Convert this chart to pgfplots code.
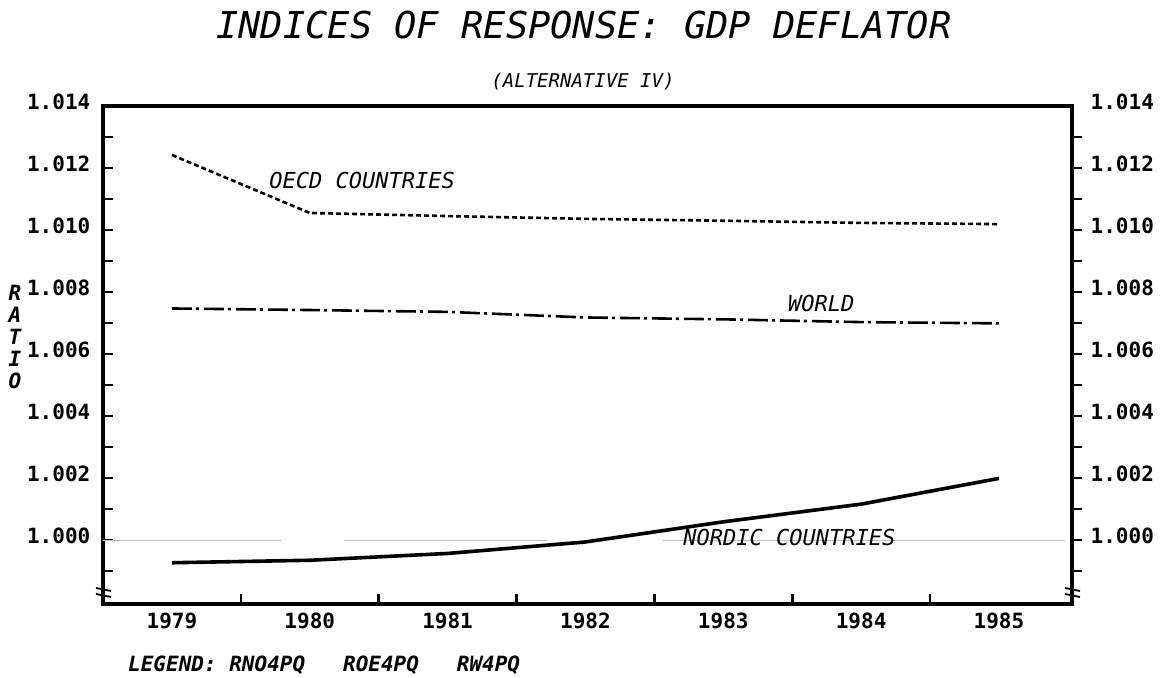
\documentclass[border=0pt]{standalone}
\usepackage{fontspec}
\usepackage{pgfplots}
\pgfplotsset{compat=1.18}
\newfontfamily\pf{DejaVu Sans Mono}
\newcommand{\tickfont}{\pf\bfseries\fontsize{21bp}{22bp}\selectfont}
\newcommand{\lblfont}{\pf\itshape\fontsize{22bp}{24bp}\selectfont}
\begin{document}
\begin{tikzpicture}[x=1bp,y=1bp]
\path[use as bounding box] (0,0) rectangle (1172,678);
\begin{axis}[
  at={(103bp,74bp)}, anchor=south west, scale only axis,
  width=969bp, height=498bp,
  xmin=1978.5, xmax=1985.53, ymin=0.99794, ymax=1.014,
  line width=3.4bp,
  axis line style={line width=3.4bp},
  xtick={1979.5,1980.5,1981.5,1982.5,1983.5,1984.5}, xticklabels={},
  extra x ticks={1979,1980,1981,1982,1983,1984,1985},
  extra x tick labels={1979,1980,1981,1982,1983,1984,1985},
  extra x tick style={tick style={draw=none}},
  xtick pos=bottom, ytick pos=left,
  ytick={1.000,1.002,1.004,1.006,1.008,1.010,1.012,1.014},
  yticklabels={1.000,1.002,1.004,1.006,1.008,1.010,1.012,1.014},
  minor ytick={0.999,1.001,1.003,1.005,1.007,1.009,1.011,1.013},
  tick align=inside,
  major tick length=10bp, minor tick length=10bp,
  tick style={line width=2.6bp, black},
  xticklabel style={font=\tickfont, yshift=-4bp},
  yticklabel style={font=\tickfont, anchor=east, inner sep=0pt, xshift=-11bp, yshift=4.5bp},
  clip=false,
]
\addplot[gray!50, line width=0.8bp, forget plot] coordinates {(1978.5,1.0) (1979.80,1.0)};
\addplot[gray!50, line width=0.8bp, forget plot] coordinates {(1980.245,1.0) (1981.72,1.0)};
\addplot[gray!50, line width=0.8bp, forget plot] coordinates {(1982.555,1.0) (1985.48,1.0)};
% OECD countries (ROE4PQ)
\addplot[black, line width=2.6bp, dash pattern=on 5bp off 3bp] coordinates {
(1979,1.01242) (1980,1.01055) (1981,1.01045) (1982,1.01036) (1983,1.01030) (1984,1.01023) (1985,1.01019)};
% World (RW4PQ)
\addplot[black, line width=2.6bp, dash pattern=on 20bp off 4bp on 3bp off 5bp] coordinates {
(1979,1.00747) (1980,1.00742) (1981,1.00736) (1982,1.00718) (1983,1.00712) (1984,1.00703) (1985,1.00699)};
% Nordic countries (RNO4PQ)
\addplot[black, line width=3.6bp] coordinates {
(1979,0.99927) (1980,0.99935) (1981,0.99957) (1982,0.99994) (1983,1.00059) (1984,1.00116) (1985,1.00199)};
\node[font=\lblfont] at (axis cs:1980.38,1.01161) {OECD COUNTRIES};
\node[font=\lblfont] at (axis cs:1983.71,1.00764) {WORLD};
\node[font=\lblfont] at (axis cs:1983.48,1.00010) {NORDIC COUNTRIES};
\end{axis}
\begin{axis}[
  at={(103bp,74bp)}, anchor=south west, scale only axis,
  width=969bp, height=498bp,
  xmin=1978.5, xmax=1985.53, ymin=0.99794, ymax=1.014,
  axis x line=none, axis y line=right,
  line width=3.4bp,
  axis line style={line width=3.4bp, -},
  ytick={1.000,1.002,1.004,1.006,1.008,1.010,1.012},
  yticklabels={1.000,1.002,1.004,1.006,1.008,1.010,1.012},
  extra y ticks={1.014}, extra y tick labels={1.014},
  extra y tick style={tick style={draw=none}},
  minor ytick={0.999,1.001,1.003,1.005,1.007,1.009,1.011,1.013},
  tick align=outside,
  major tick length=10bp, minor tick length=10bp,
  tick style={line width=2.6bp, black},
  yticklabel style={font=\tickfont, anchor=west, inner sep=0pt, xshift=7bp, yshift=4.5bp},
]
\end{axis}
% axis break marks
\draw[line width=1.8bp] (96,90) -- (111,87);
\draw[line width=1.8bp] (96,84) -- (111,81);
\draw[line width=1.8bp] (1065,90) -- (1080,87);
\draw[line width=1.8bp] (1065,84) -- (1080,81);
% titles and texts
\node[font=\pf\itshape\fontsize{37bp}{40bp}\selectfont] at (584,653) {INDICES OF RESPONSE: GDP DEFLATOR};
\node[font=\pf\itshape\fontsize{19bp}{21bp}\selectfont] at (583,596) {(ALTERNATIVE IV)};
\node[font=\pf\bfseries\itshape\fontsize{21bp}{22bp}\selectfont, align=center, inner sep=0pt] at (15,341) {R\\A\\T\\I\\O};
\node[font=\pf\bfseries\itshape\fontsize{21bp}{22bp}\selectfont, anchor=west, inner sep=0pt] at (128,13) {LEGEND:\ RNO4PQ\ \ \ ROE4PQ\ \ \ RW4PQ};
\end{tikzpicture}
\end{document}
